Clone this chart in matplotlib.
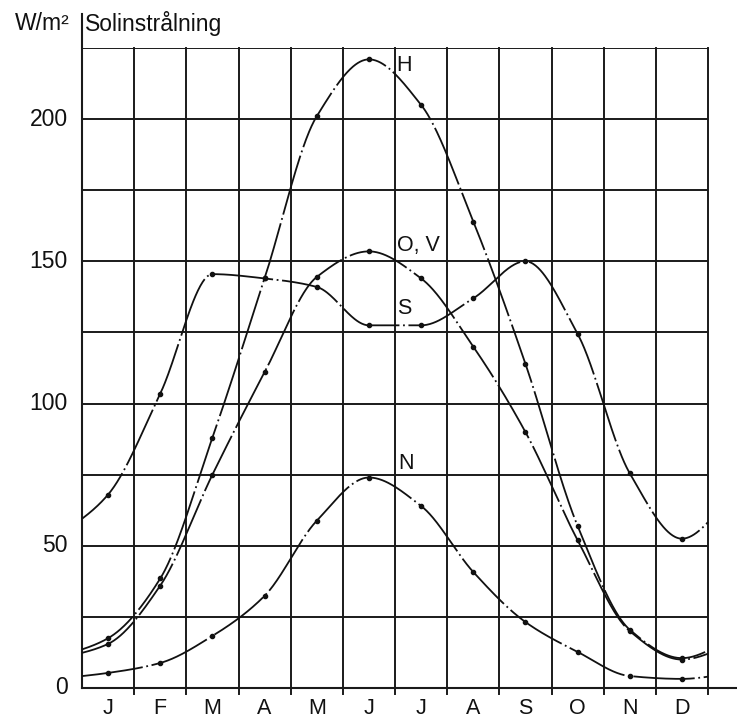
import numpy as np
import matplotlib
matplotlib.use("Agg")
import matplotlib.pyplot as plt

plt.rcParams['font.family'] = ['Liberation Sans', 'DejaVu Sans']

months = ["J", "F", "M", "A", "M", "J", "J", "A", "S", "O", "N", "D"]
y_ticks = [0, 50, 100, 150, 200]

# Monthly mean solar irradiance (W/m2), read at mid-month
H = [17.5, 38.5, 88, 144, 201, 221, 205, 164, 114, 57, 20.5, 10.5]
OV = [15.5, 36, 75, 111, 144.5, 153.5, 144, 120, 90, 52, 20, 10]
S = [68, 103.5, 145.5, 144, 141, 127.5, 127.5, 137, 150, 124.5, 75.5, 52.5]
N = [5.3, 8.8, 18.3, 32.4, 58.8, 74, 64, 40.8, 23.2, 12.7, 4.2, 3.2]

series = [("H", H), ("O, V", OV), ("S", S), ("N", N)]


def pchip(xk, yk, xs):
    xk = np.asarray(xk, float)
    yk = np.asarray(yk, float)
    h = np.diff(xk)
    delta = np.diff(yk) / h
    d = np.zeros_like(yk)
    for i in range(1, len(yk) - 1):
        if delta[i - 1] * delta[i] > 0:
            w1 = 2 * h[i] + h[i - 1]
            w2 = h[i] + 2 * h[i - 1]
            d[i] = (w1 + w2) / (w1 / delta[i - 1] + w2 / delta[i])
        else:
            d[i] = 0.0
    d[0] = delta[0]
    d[-1] = delta[-1]
    idx = np.clip(np.searchsorted(xk, xs) - 1, 0, len(xk) - 2)
    t = (xs - xk[idx]) / h[idx]
    y0, y1 = yk[idx], yk[idx + 1]
    d0, d1 = d[idx], d[idx + 1]
    hh = h[idx]
    h00 = 2 * t**3 - 3 * t**2 + 1
    h10 = t**3 - 2 * t**2 + t
    h01 = -2 * t**3 + 3 * t**2
    h11 = t**3 - t**2
    return h00 * y0 + h10 * hh * d0 + h01 * y1 + h11 * hh * d1


fig = plt.figure(figsize=(7.37, 7.18), dpi=100)
ax = fig.add_axes([82 / 737, 30 / 718, 626 / 737, 640 / 718])
ax.set_xlim(0, 12)
ax.set_ylim(0, 225)
ax.axis("off")

gc = "#1a1a1a"
tc = "#111111"
# horizontal grid
for yv in np.arange(0, 226, 25):
    ax.plot([0, 12], [yv, yv], color=gc, lw=1.4, solid_capstyle="butt", zorder=1)
# vertical grid (extend slightly below axis)
for xv in range(1, 13):
    ax.plot([xv, xv], [-2.0, 225], color=gc, lw=1.4, clip_on=False, zorder=1)
# left axis (extends upward past top grid)
ax.plot([0, 0], [0, 237], color=gc, lw=1.5, clip_on=False, zorder=1)
# bottom axis extends to the right
ax.plot([0, 12.56], [0, 0], color=gc, lw=1.5, clip_on=False, zorder=1)

xc = np.arange(12) + 0.5
xs = np.linspace(0, 12, 800)
for name, vals in series:
    v = np.asarray(vals, float)
    xk = np.concatenate([[-0.5], xc, [12.5]])
    yk = np.concatenate([[v[-1]], v, [v[0]]])
    ys = pchip(xk, yk, xs)
    ax.plot(xs, ys, color=tc, lw=1.3, linestyle=(0, (34, 2.0, 1.0, 2.0)),
            zorder=3, clip_on=False)
    ax.plot(xc, v, "o", color=tc, ms=3.0, zorder=4, clip_on=False)

# y tick labels
for yv in y_ticks:
    ax.text(-0.27, yv, str(yv), ha="right", va="center", fontsize=16.5, color=tc)
# month labels
for i, m in enumerate(months):
    ax.text(i + 0.5, -7.3, m, ha="center", va="center", fontsize=15.5, color=tc)

# curve labels
ax.text(6.03, 219, "H", ha="left", va="center", fontsize=15.5, color=tc)
ax.text(6.03, 155.5, "O, V", ha="left", va="center", fontsize=15.5, color=tc)
ax.text(6.03, 133.5, "S", ha="left", va="center", fontsize=15.5, color=tc)
ax.text(6.06, 78.8, "N", ha="left", va="center", fontsize=15.5, color=tc)

# title
fig.text(42 / 737, 1 - 23 / 718, "W/m²", ha="center", va="center", fontsize=16.5, color=tc)
fig.text(85 / 737, 1 - 23 / 718, "Solinstrålning", ha="left", va="center", fontsize=16.5, color=tc)

fig.savefig("out.png", dpi=100, facecolor="white")
